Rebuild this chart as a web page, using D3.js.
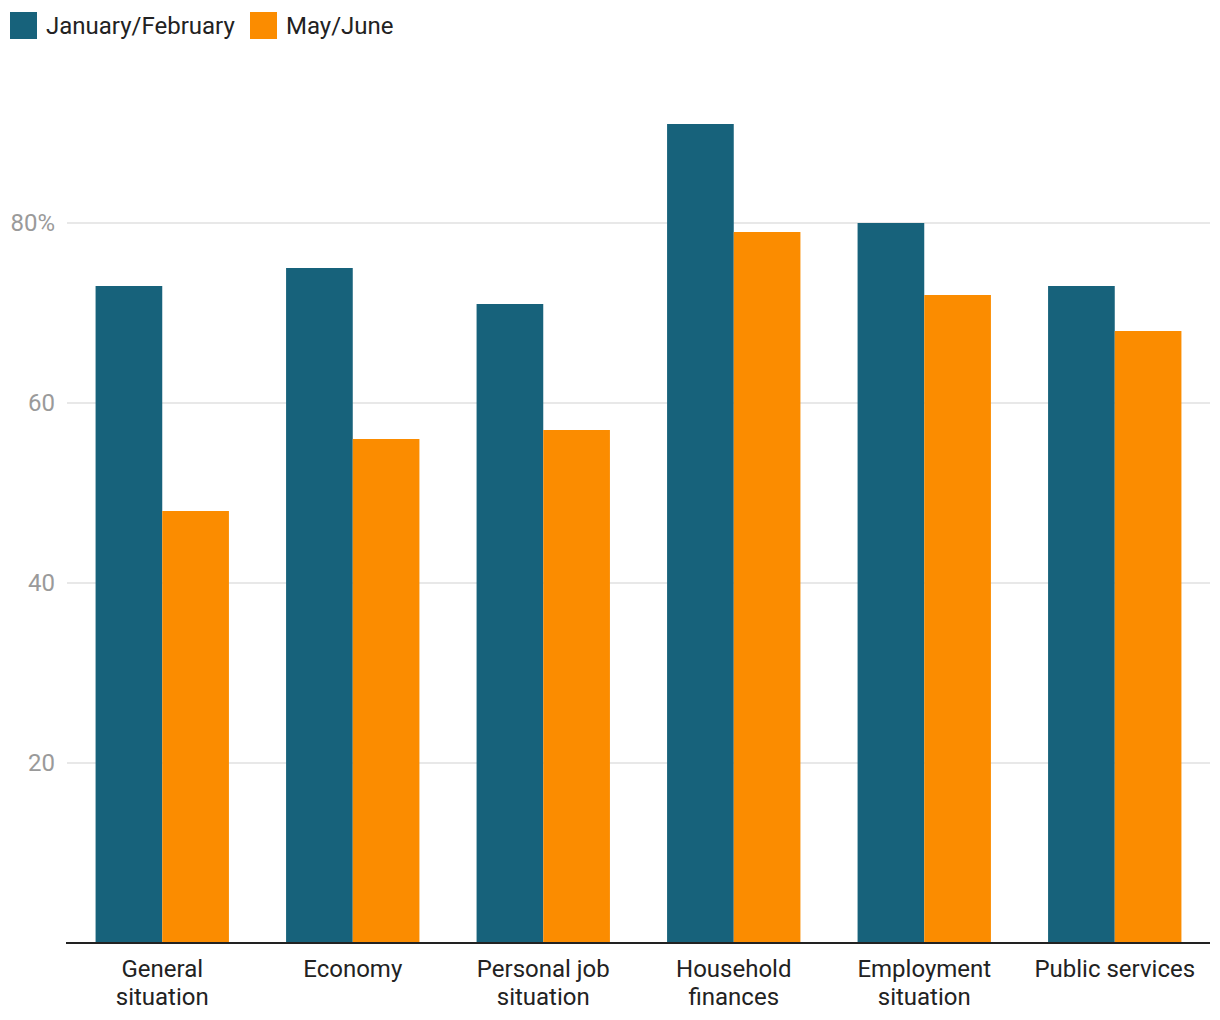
<!DOCTYPE html>
<html><head><meta charset="utf-8">
<script src="https://cdn.jsdelivr.net/npm/d3@7"></script>
<style>body{margin:0;background:#fff;font-family:Roboto,sans-serif;}</style>
</head><body><svg id="c" width="1220" height="1020"></svg>
<script>
const categories = [["General","situation"],["Economy"],["Personal job","situation"],["Household","finances"],["Employment","situation"],["Public services"]];
const seriesNames = ["January/February","May/June"];
const janFeb = [73,75,71,91,80,73];
const mayJune = [48,56,57,79,72,68];
const yTicks = [20,40,60,80];
const colors = ["#17627b","#fb8c00"];

const svg = d3.select("#c");
const x0 = d3.scaleBand().domain(d3.range(categories.length)).range([67,1210]).paddingInner(0.3).paddingOuter(0.15);
const x1 = d3.scaleBand().domain([0,1]).range([0,x0.bandwidth()]);
const y = d3.scaleLinear().domain([0,100]).range([943,43]);

svg.append("g").selectAll("line").data(yTicks).join("line")
  .attr("x1",67).attr("x2",1210).attr("y1",d=>y(d)).attr("y2",d=>y(d))
  .attr("stroke","#e0e0e0").attr("stroke-width",1.5);
svg.append("g").selectAll("text").data(yTicks).join("text")
  .attr("x",55).attr("y",d=>y(d)).attr("dy","0.35em").attr("text-anchor","end")
  .attr("font-size",24).attr("fill","#9a9a9a").text(d=>d===80?d+"%":d);

const series = [janFeb, mayJune];
series.forEach((vals,si)=>{
  svg.append("g").selectAll("rect").data(vals).join("rect")
    .attr("x",(d,i)=>x0(i)+x1(si)).attr("width",x1.bandwidth())
    .attr("y",d=>y(d)).attr("height",d=>y(0)-y(d)).attr("fill",colors[si]);
});

svg.append("line").attr("x1",66).attr("x2",1210).attr("y1",y(0)).attr("y2",y(0))
  .attr("stroke","#222").attr("stroke-width",2);

const lab = svg.append("g").selectAll("text").data(categories).join("text")
  .attr("text-anchor","middle").attr("font-size",24).attr("fill","#222")
  .attr("transform",(d,i)=>`translate(${x0(i)+x0.bandwidth()/2},0)`);
lab.selectAll("tspan").data(d=>d).join("tspan").attr("x",0)
  .attr("y",(d,i)=>977+i*28).text(d=>d);

const leg = svg.append("g");
const lx = [10,250];
seriesNames.forEach((n,i)=>{
  leg.append("rect").attr("x",lx[i]).attr("y",12).attr("width",27).attr("height",27).attr("fill",colors[i]);
  leg.append("text").attr("x",lx[i]+36).attr("y",26).attr("dy","0.35em").attr("font-size",24).attr("fill","#222").text(n);
});
</script></body></html>
